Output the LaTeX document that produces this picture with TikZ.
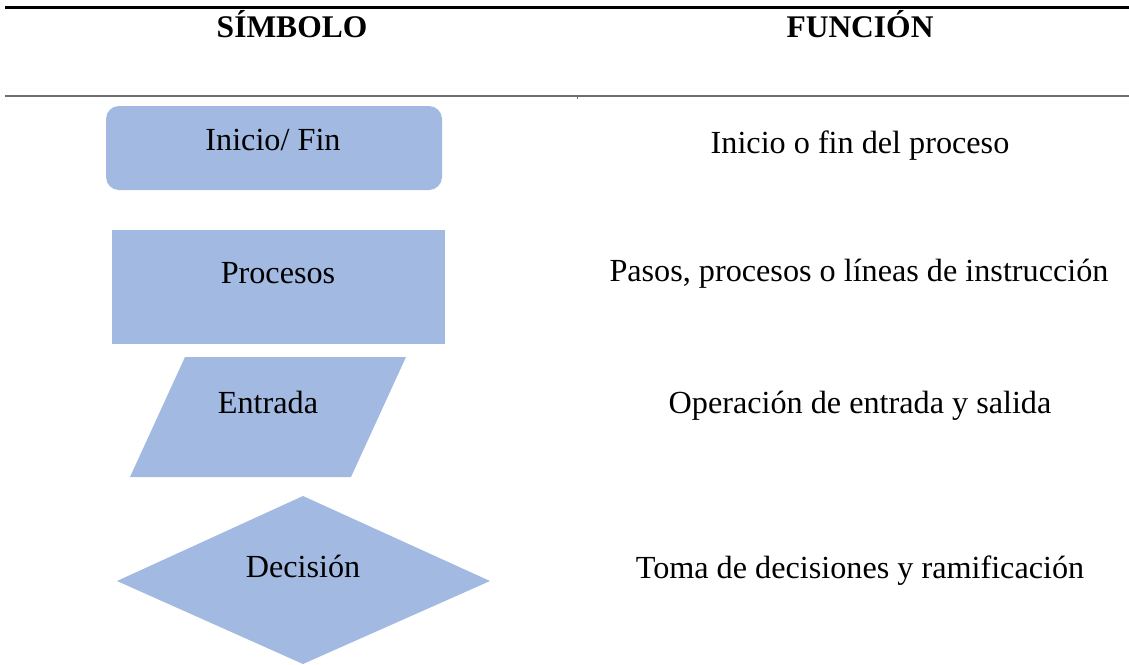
\documentclass[tikz,border=0pt]{standalone}
\usepackage{fontspec}
\setmainfont{Liberation Serif}
\definecolor{shapefill}{RGB}{162,185,225}
\definecolor{rulegray}{RGB}{110,110,110}
\begin{document}
\begin{tikzpicture}[x=1pt,y=-1pt,
  txt/.style={anchor=base,inner sep=0pt,font=\fontsize{32.2}{36}\selectfont},
  head/.style={anchor=base,inner sep=0pt,font=\fontsize{31.5}{36}\selectfont\bfseries},
  shp/.style={fill=shapefill,draw=none}]
\useasboundingbox (0,0) rectangle (1129,664);
% rules
\draw[line width=2.2pt,black] (5,7.5) -- (1129,7.5);
\draw[line width=1.1pt,rulegray] (5,96) -- (1129,96);
\draw[line width=0.4pt,rulegray] (577,96) -- (577,99);
% headings
\node[head] (hsym) at (292,37) {SÍMBOLO};
\node[head] (hfun) at (860,37) {FUNCIÓN};
% shapes
\fill[shp,rounded corners=13pt] (106,106) rectangle (442,190);
\fill[shp] (112,230) rectangle (445,344);
\fill[shp] (185,357) -- (406,357) -- (351,477) -- (130,477) -- cycle;
\fill[shp] (303,496) -- (490,581) -- (303,664) -- (117,581) -- cycle;
% symbol labels
\node[txt] (sinicio) at (273,150) {Inicio/ Fin};
\node[txt] (sproc) at (278,283) {Procesos};
\node[txt] (sent) at (268,413) {Entrada};
\node[txt] (sdec) at (303,577) {Decisión};
% function labels
\node[txt] (finicio) at (860,153) {Inicio o fin del proceso};
\node[txt] (fproc) at (859,281) {Pasos, procesos o líneas de instrucción};
\node[txt] (fent) at (860,413) {Operación de entrada y salida};
\node[txt] (fdec) at (860,578) {Toma de decisiones y ramificación};
\end{tikzpicture}
\end{document}
